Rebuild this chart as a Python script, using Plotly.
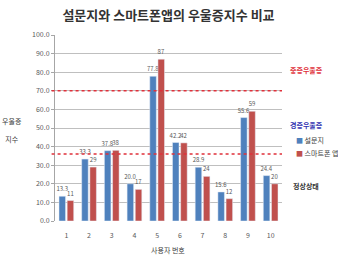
import plotly.graph_objects as go

users = ["1", "2", "3", "4", "5", "6", "7", "8", "9", "10"]
survey = [13.3, 33.3, 37.8, 20.0, 77.8, 42.2, 28.9, 15.6, 55.6, 24.4]
app = [11, 29, 38, 17, 87, 42, 24, 12, 59, 20]
y_ticks = [0, 10, 20, 30, 40, 50, 60, 70, 80, 90, 100]
severe_level = 70
mild_level = 36

BLUE = "#4F81BD"
RED = "#C0504D"
FONT = "Noto Sans CJK KR"

fig = go.Figure()
fig.add_bar(x=users, y=survey, name="설문지", marker_color=BLUE,
            text=[f"{v:.1f}" for v in survey], textposition="outside",
            constraintext="none",
            textfont=dict(size=6, color="#595959"), cliponaxis=False)
fig.add_bar(x=users, y=app, name="스마트폰 앱", marker_color=RED,
            text=[f"{v}" for v in app], textposition="outside",
            constraintext="none",
            textfont=dict(size=6, color="#595959"), cliponaxis=False)

for lvl in (severe_level, mild_level):
    fig.add_shape(type="line", xref="paper", yref="y", x0=-0.015, x1=1.0,
                  y0=lvl, y1=lvl, line=dict(color="#E0303A", width=1.5, dash="dot"))

fig.update_layout(
    width=338, height=255,
    margin=dict(l=55, r=56, t=35, b=34, autoexpand=False),
    paper_bgcolor="white", plot_bgcolor="white",
    font=dict(family=FONT, size=7, color="#595959"),
    title=dict(text="<b>설문지와 스마트폰앱의 우울증지수 비교</b>", x=0.5, xref="paper",
               y=0.94, yanchor="middle",
               font=dict(family=FONT, size=13, color="#333333")),
    barmode="group", bargap=0.28, bargroupgap=0.2,
    showlegend=False,
    uniformtext=dict(mode=False),
)
fig.update_yaxes(range=[0, 100], tickvals=y_ticks, tickformat=".1f",
                 showgrid=True, gridcolor="#BFBFBF", gridwidth=1,
                 showline=True, linecolor="#A6A6A6", ticks="outside", ticklen=3,
                 tickcolor="#A6A6A6", tickfont=dict(size=7, color="#595959"),
                 zeroline=False, automargin=False)
fig.update_xaxes(showline=False, ticks="", tickfont=dict(size=7, color="#595959"),
                 ticklabelstandoff=9, automargin=False)

ann = [
    dict(text="우울증<br><br>지수", x=12, y=130, font=dict(size=7, color="#404040")),
    dict(text="사용자 번호", x=168, y=250, font=dict(size=7, color="#404040")),
    dict(text="<b>중증우울증</b>", x=306, y=70, font=dict(size=7, color="#E0303A")),
    dict(text="<b>경증우울증</b>", x=306, y=125, font=dict(size=7, color="#3030B0")),
    dict(text=f"<span style='color:{BLUE}'>■</span> 설문지", x=294, y=140,
         font=dict(size=7, color="#404040"), xanchor="left"),
    dict(text=f"<span style='color:{RED}'>■</span> 스마트폰 앱", x=294, y=153,
         font=dict(size=7, color="#404040"), xanchor="left"),
    dict(text="<b>정상상태</b>", x=306, y=186, font=dict(size=7, color="#333333")),
]
for a in ann:
    a.setdefault("xanchor", "center")
    fig.add_annotation(xref="paper", yref="paper", showarrow=False,
                       x=(a["x"] - 55) / 227,
                       y=(255 - 34 - a["y"]) / 186, text=a["text"], font=a["font"],
                       xanchor=a["xanchor"], yanchor="middle", align="center")

fig.write_html("out.html")
